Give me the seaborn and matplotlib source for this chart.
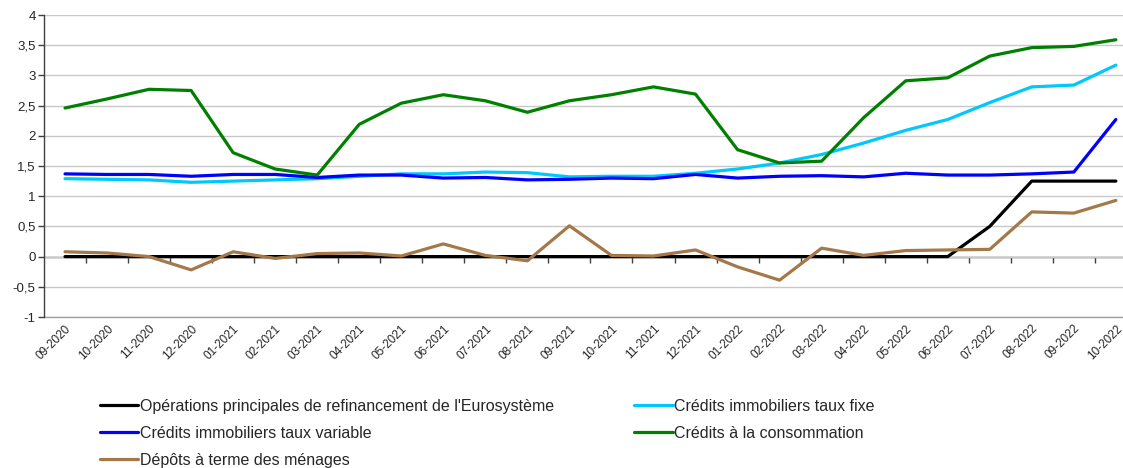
import numpy as np
import pandas as pd
import seaborn as sns
import matplotlib.pyplot as plt

# Mois (axe des catégories)
mois = ["09-2020", "10-2020", "11-2020", "12-2020", "01-2021", "02-2021", "03-2021",
        "04-2021", "05-2021", "06-2021", "07-2021", "08-2021", "09-2021", "10-2021",
        "11-2021", "12-2021", "01-2022", "02-2022", "03-2022", "04-2022", "05-2022",
        "06-2022", "07-2022", "08-2022", "09-2022", "10-2022"]

# Taux (%)
refi = [0, 0, 0, 0, 0, 0, 0, 0, 0, 0, 0, 0, 0, 0, 0, 0, 0, 0, 0, 0, 0, 0,
        0.50, 1.25, 1.25, 1.25]
immo_fixe = [1.29, 1.28, 1.27, 1.23, 1.25, 1.27, 1.29, 1.33, 1.37, 1.37, 1.40, 1.39, 1.32,
             1.33, 1.33, 1.38, 1.45, 1.55, 1.69, 1.88, 2.09, 2.27, 2.55, 2.81, 2.84, 3.17]
immo_variable = [1.37, 1.36, 1.36, 1.33, 1.36, 1.36, 1.31, 1.35, 1.35, 1.30, 1.31, 1.27, 1.28,
                 1.30, 1.29, 1.36, 1.30, 1.33, 1.34, 1.32, 1.38, 1.35, 1.35, 1.37, 1.40, 2.27]
conso = [2.46, 2.61, 2.77, 2.75, 1.72, 1.45, 1.35, 2.19, 2.54, 2.68, 2.58, 2.39, 2.58,
         2.68, 2.81, 2.69, 1.77, 1.55, 1.58, 2.30, 2.91, 2.96, 3.32, 3.46, 3.48, 3.59]
depots = [0.08, 0.06, 0.00, -0.22, 0.08, -0.03, 0.05, 0.06, 0.01, 0.21, 0.02, -0.07, 0.51,
          0.02, 0.01, 0.11, -0.17, -0.39, 0.14, 0.02, 0.10, 0.11, 0.12, 0.74, 0.72, 0.93]

series = [
    ("Opérations principales de refinancement de l'Eurosystème", refi, "#000000"),
    ("Crédits immobiliers taux fixe", immo_fixe, "#00C8FF"),
    ("Crédits immobiliers taux variable", immo_variable, "#0000FF"),
    ("Crédits à la consommation", conso, "#008000"),
    ("Dépôts à terme des ménages", depots, "#A5784A"),
]

sns.set_theme(style="white")
plt.rcParams['font.family'] = ['Liberation Sans', 'DejaVu Sans']

fig = plt.figure(figsize=(11.23, 4.68), dpi=100)
ax = fig.add_axes([44 / 1123, 1 - 317 / 468, 1 - 44 / 1123, (317 - 15) / 468])

pos = np.arange(len(mois))
handles = {}
for name, vals, col in series:
    df = pd.DataFrame({"pos": pos, "val": vals})
    sns.lineplot(data=df, x="pos", y="val", color=col, linewidth=2.3, ax=ax, label=name)
    handles[name] = ax.get_lines()[-1]

ax.set_xlim(-0.5, 25.17)
ax.set_ylim(-1, 4)
ax.set_xlabel("")
ax.set_ylabel("")

yt = np.arange(-1, 4.01, 0.5)
ax.set_yticks(yt)
ax.set_yticklabels([("%g" % v).replace(".", ",") for v in yt], fontsize=9.5)
ax.yaxis.grid(True, color="#c8c8c8", linewidth=1)
ax.set_axisbelow(True)
ax.axhline(-1, color="#a0a0a0", linewidth=1, clip_on=False, zorder=0)
ax.tick_params(axis="y", direction="out", length=4, width=1, color="#404040", pad=2, left=True)

ax.set_xticks(pos)
ax.set_xticklabels(mois, rotation=45, ha="right", rotation_mode="anchor", fontsize=8.5)
ax.tick_params(axis="x", length=0, pad=4)

for s in ["top", "right", "bottom"]:
    ax.spines[s].set_visible(False)
ax.spines["left"].set_color("#404040")
ax.spines["left"].set_linewidth(1)

# axe des catégories croisant en 0
sec = ax.secondary_xaxis(0.2)
sec.set_xticks(np.arange(0.5, 25, 1))
sec.set_xticklabels([])
sec.tick_params(axis="x", direction="out", length=4, width=1, color="#404040")
sec.spines["bottom"].set_color("#404040")
sec.spines["bottom"].set_linewidth(1)

ax.get_legend().remove()
order = [series[0][0], series[2][0], series[4][0], series[1][0], series[3][0]]
fig.legend([handles[n] for n in order], order, loc="upper left",
           bbox_to_anchor=(100 / 1123, 1 - 399 / 468), ncol=2, frameon=False,
           fontsize=11.5, handlelength=2.4, handletextpad=0.12, labelspacing=0.74,
           columnspacing=5.0, borderpad=0, borderaxespad=0)

fig.savefig("out.png", dpi=100)
